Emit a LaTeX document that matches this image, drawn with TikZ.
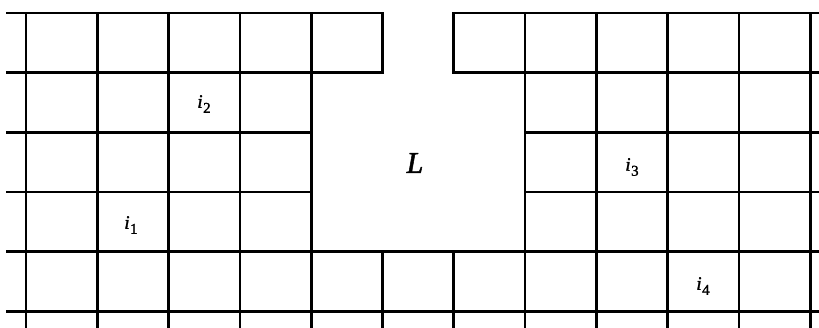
\documentclass[tikz,border=0pt]{standalone}
\usepackage{fontspec}
\setmainfont{Liberation Serif}
\newfontfamily\labfont[FakeBold=1.6]{Liberation Serif}
\newcommand{\ilab}[1]{{\labfont\fontsize{19}{22}\selectfont\itshape i}\kern0.5pt\raisebox{-5pt}{\labfont\fontsize{15}{18}\selectfont #1}}
\begin{document}
\begin{tikzpicture}[x=1pt,y=-1pt,
  gridline/.style={line width=2.7pt, line cap=rect, line join=miter, black},
  lab/.style={inner sep=0pt},
  biglab/.style={inner sep=0pt, font=\labfont\fontsize{30}{34}\selectfont\itshape}]
\useasboundingbox (0,0) rectangle (819,327);
\begin{scope}
\clip (0,0) rectangle (819,327);
% horizontal lines
\draw[gridline] (7,13) -- (382.5,13);
\draw[gridline] (453.8,13) -- (825,13);
\draw[gridline] (7,72.7) -- (382.5,72.7);
\draw[gridline] (453.8,72.7) -- (825,72.7);
\draw[gridline] (7,132.4) -- (311.2,132.4);
\draw[gridline] (525.1,132.4) -- (825,132.4);
\draw[gridline] (7,192.1) -- (311.2,192.1);
\draw[gridline] (525.1,192.1) -- (825,192.1);
\draw[gridline] (7,251.8) -- (825,251.8);
\draw[gridline] (7,311.5) -- (825,311.5);
% vertical lines
\foreach \x in {26,97.3,168.6,239.9,311.2,525.1,596.4,667.7,739,810.3}
  \draw[gridline] (\x,13) -- (\x,335);
\foreach \x in {382.5,453.8} {
  \draw[gridline] (\x,13) -- (\x,72.7);
  \draw[gridline] (\x,251.8) -- (\x,335);
}
\end{scope}
% labels
\node[lab] (i1) at (131,225) {\ilab{1}};
\node[lab] (i2) at (204,104) {\ilab{2}};
\node[lab] (i3) at (632,167) {\ilab{3}};
\node[lab] (i4) at (703,286) {\ilab{4}};
\node[biglab] (L) at (415,163) {L};
\end{tikzpicture}
\end{document}
